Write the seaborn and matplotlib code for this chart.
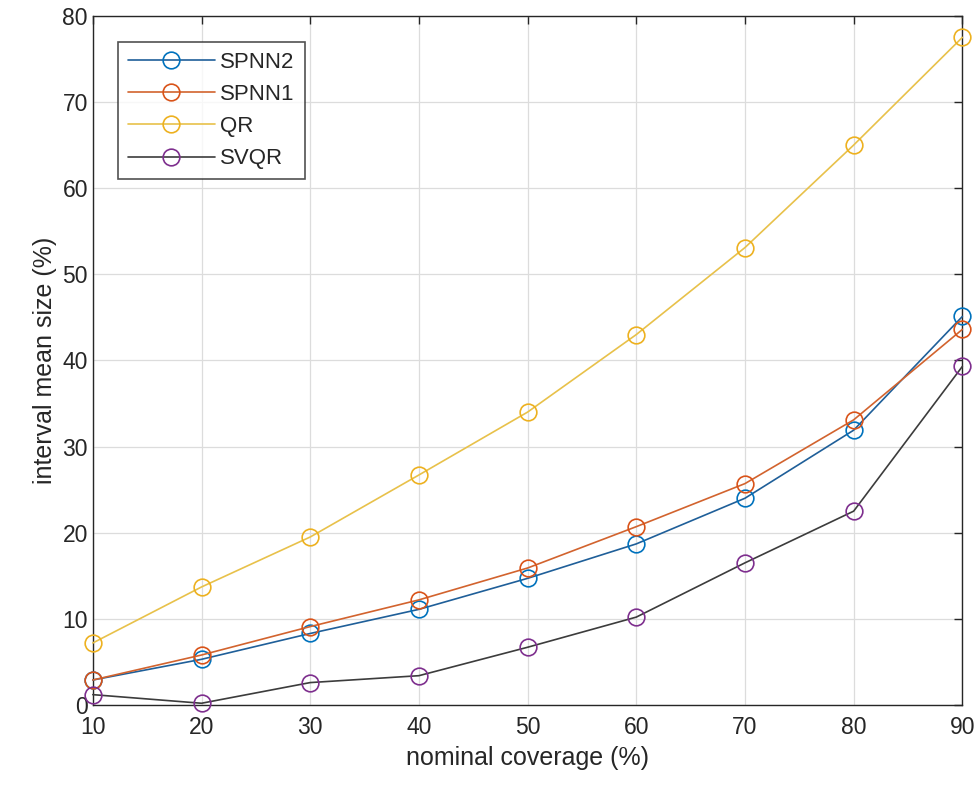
import matplotlib
matplotlib.use("Agg")
import matplotlib.pyplot as plt
import seaborn as sns
import pandas as pd

coverage = [10, 20, 30, 40, 50, 60, 70, 80, 90]
spnn2 = [2.9, 5.3, 8.3, 11.1, 14.7, 18.7, 24.0, 31.9, 45.1]
spnn1 = [2.9, 5.8, 9.1, 12.2, 15.9, 20.7, 25.7, 33.1, 43.6]
qr = [7.2, 13.7, 19.5, 26.7, 34.0, 43.0, 53.1, 65.0, 77.5]
svqr = [1.2, 0.2, 2.6, 3.4, 6.7, 10.2, 16.5, 22.5, 39.3]

series = {"SPNN2": spnn2, "SPNN1": spnn1, "QR": qr, "SVQR": svqr}
line_colors = {"SPNN2": "#1f5f99", "SPNN1": "#d2632e", "QR": "#e8c14a", "SVQR": "#3c3c3c"}
marker_colors = {"SPNN2": "#0072BD", "SPNN1": "#D95319", "QR": "#EDB120", "SVQR": "#7E2F8E"}

sns.set_theme(style="white")
plt.rcParams['font.family'] = ['Liberation Sans', 'DejaVu Sans']

fig = plt.figure(figsize=(9.77, 7.93), dpi=100)
ax = fig.add_axes([0.095, 0.111, 0.89, 0.869])

for name, vals in series.items():
    df = pd.DataFrame({"x": coverage, "y": vals})
    sns.lineplot(data=df, x="x", y="y", ax=ax, color=line_colors[name], lw=1.2,
                 marker="o", markersize=12, markerfacecolor="none",
                 markeredgecolor=marker_colors[name], markeredgewidth=1.2,
                 label=name, clip_on=False, zorder=3)

ax.set_xlim(10, 90)
ax.set_ylim(0, 80)
ax.set_xticks(range(10, 91, 10))
ax.set_yticks(range(0, 81, 10))
ax.grid(True, color="#dcdcdc", lw=0.9)
ax.set_axisbelow(True)
for s in ax.spines.values():
    s.set_color("#262626")
    s.set_linewidth(1.0)
ax.tick_params(direction="in", length=6, width=1, colors="#262626",
               labelsize=16.5, top=True, right=True, labelcolor="#262626")
ax.tick_params(axis="x", pad=8)
ax.set_xlabel("nominal coverage (%)", fontsize=18, color="#262626", labelpad=5)
ax.set_ylabel("interval mean size (%)", fontsize=18, color="#262626", labelpad=4)

leg = ax.legend(loc="upper left", bbox_to_anchor=(0.029, 0.962), fontsize=16,
                frameon=True, fancybox=False, edgecolor="#262626",
                handlelength=3.9, borderpad=0.45, labelspacing=0.5,
                handletextpad=0.25, borderaxespad=0)
leg.get_frame().set_linewidth(1.2)

fig.savefig("out.png", dpi=100)
